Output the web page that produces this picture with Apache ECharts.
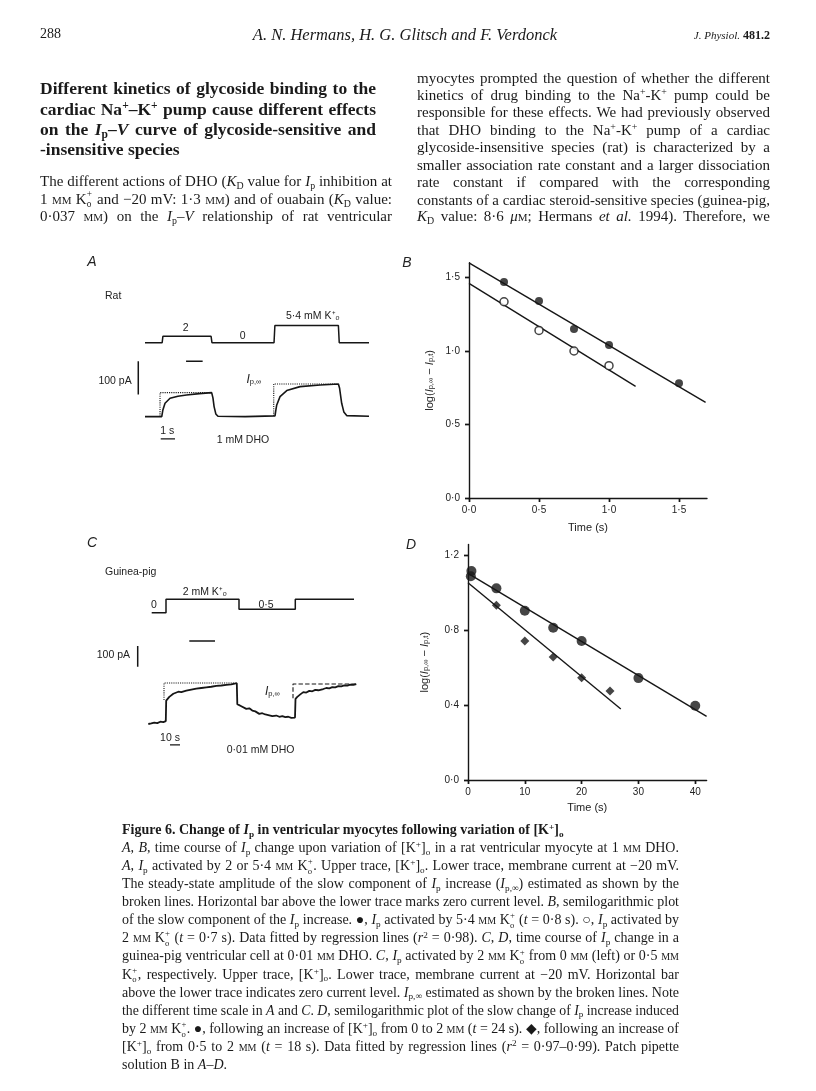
<!DOCTYPE html>
<html><head><meta charset="utf-8">
<script src="https://cdn.jsdelivr.net/npm/echarts@6/dist/echarts.min.js"></script>
<style>
html,body{margin:0;padding:0;background:#fff;}
#page{position:relative;width:816px;height:1091px;overflow:hidden;background:#fff;}
#chart{position:absolute;left:0;top:0;width:816px;height:1091px;}
#txt{position:absolute;left:0;top:0;width:816px;height:1091px;pointer-events:none;}
.l{position:absolute;white-space:nowrap;font-family:"Liberation Serif","Times New Roman",serif;color:#1a1a1a;}
.j{text-align:justify;text-align-last:justify;}
.l sub,.l sup{font-size:0.66em;line-height:0;position:relative;vertical-align:baseline;}
.l sup{top:-0.5em;} .l sub{top:0.3em;}
.sc{font-variant:small-caps;}
.st{display:inline-block;position:relative;width:0.4em;height:0.7em;}
.st>span{position:absolute;left:0.02em;font-size:0.62em;line-height:1;}
.st>.u{top:-0.35em;} .st>.d{top:0.75em;}
</style></head>
<body>
<div id="page"><div id="chart"></div><div id="txt"></div></div>
<script>
// ================= DATA =================
// Panel A (rat): upper trace [K+]o (mM) vs time (s)
const aKUpper = [[0,0],[1.2,0],[1.25,2],[4.62,2],[4.68,0],[9.02,0],[9.08,5.4],[13.52,5.4],[13.58,0],[15.66,0]];
// Panel A: membrane current (pA) vs time (s)
const aCurrent = [[0,-166],[1.17,-166],[1.25,-146],[1.4,-126],[1.75,-111],[2.3,-105],[2.9,-101],[3.8,-97],[4.66,-94],
  [4.75,-110],[4.83,-136],[4.95,-158],[5.1,-165],[7,-166],[9.09,-164],[9.15,-146],[9.21,-131],[9.44,-106],[9.91,-88],
  [10.84,-76],[12.24,-71],[13.52,-68],[13.6,-80],[13.75,-126],[13.9,-152],[14.1,-163],[15.66,-165]];
const aGuide1 = [[1.05,-166],[1.05,-94],[4.6,-94]];
const aGuide2 = [[9.0,-164],[9.0,-68],[13.4,-68]];
const aBar100pA = [[-0.47,0],[-0.47,-100]];
const aZeroBar = [[2.87,0],[4.03,0]];
const aTimeBar = [[1.1,-233],[2.1,-233]];

// Panel C (guinea-pig): upper trace [K+]o (mM) vs time (s)
const cKUpper = [[3.4,0],[17.7,0],[17.7,2],[90.7,2],[90.7,0.5],[147,0.5],[147,2],[205.7,2]];
// Panel C: membrane current (pA) vs time (s)
const cCurrent = [[0,-401],[3,-398],[6,-394],[9,-397],[12,-390],[15,-392],[17.5,-387],
  [17.9,-288],[19,-279],[21,-270],[23,-266],[25,-255],[27,-258],[30,-245],[33,-247],[35,-238],[38,-240],[40,-232],
  [43,-235],[45,-228],[48,-230],[50,-225],[53,-227],[55,-222],[58,-224],[60,-219],[63,-221],[65,-215],[68,-217],
  [70,-213],[73,-215],[75,-211],[78,-212],[80,-209],[83,-210],[85,-205],[88.5,-204],
  [89,-305],[91,-312],[93,-315],[95,-322],[98,-328],[101,-325],[104,-336],[107,-340],[111,-352],[114,-349],
  [117,-355],[120,-358],[124,-363],[128,-360],[131,-366],[134,-363],[137,-368],[140,-366],[143,-371],[146.7,-370],
  [147.2,-280],[149,-270],[152,-258],[155,-247],[158,-249],[161,-241],[164,-243],[167,-236],[170,-238],[172,-230],
  [175,-232],[178,-227],[181,-229],[184,-223],[187,-224],[190,-218],[193,-219],[196,-214],[199,-216],[202,-211],
  [205,-212],[208,-208]];
const cGuide1 = [[15.7,-285],[15.7,-203],[87,-203]];
const cGuide2 = [[144.7,-277],[144.7,-208],[208,-208]];
const cBar100pA = [[-10.6,-24],[-10.6,-124]];
const cZeroBar = [[41,0],[66.7,0]];
const cTimeBar = [[21.7,-502],[31.7,-502]];

// Panel B: log(Ip,inf - Ip,t) vs time (s)
const bTicksX = [0, 0.5, 1.0, 1.5];
const bTicksY = [0, 0.5, 1.0, 1.5];
const bFilled = [[0.25,1.47],[0.5,1.34],[0.75,1.15],[1.0,1.04],[1.5,0.78]];
const bOpen = [[0.25,1.335],[0.5,1.14],[0.75,1.00],[1.0,0.90]];
const bFitFilled = [[0,1.60],[1.69,0.65]];
const bFitOpen = [[0,1.46],[1.19,0.76]];

// Panel D
const dTicksX = [0, 10, 20, 30, 40];
const dTicksY = [0, 0.4, 0.8, 1.2];
const dCircles = [[0.6,1.118],[0.5,1.09],[5,1.025],[10,0.905],[15,0.814],[20,0.743],[30,0.545],[40,0.397]];
const dDiamonds = [[5,0.934],[10,0.743],[15,0.658],[20,0.547],[25,0.476]];
const dFitCircles = [[0,1.105],[42,0.34]];
const dFitDiamonds = [[0,1.055],[26.9,0.38]];

// ================= CHART =================
const SANS = '"Liberation Sans", Arial, sans-serif';
const INK = '#161616';
const fmt1 = v => v.toFixed(1).replace('.', '\u00b7');
const fmt0 = v => String(v);

function hidden(gi, min, max){ return {gridIndex:gi, type:'value', min, max, show:false, splitLine:{show:false}}; }
function mainAxis(gi, min, max, ticks, fmt, name, gap, isY, nameStyle){
  return {gridIndex:gi, type:'value', min, max,
    axisLine:{show:true, onZero:false, lineStyle:{color:INK, width:1.4}},
    axisTick:{show:true, length:4, customValues:ticks, lineStyle:{color:INK, width:1.4}},
    axisLabel:{customValues:ticks, formatter:fmt, fontFamily:SANS, fontSize:10, color:'#222', margin: isY?9:7},
    splitLine:{show:false},
    name:name, nameLocation:'middle', nameGap:gap, nameTextStyle:nameStyle};
}
function innerAxis(gi, min, max, ticks){
  return {gridIndex:gi, type:'value', min, max, axisLine:{show:false},
    axisTick:{show:true, inside:true, length:4, customValues:ticks, lineStyle:{color:INK, width:1.4}},
    axisLabel:{show:false}, splitLine:{show:false}};
}
const yNameStyle = {fontFamily:SANS, fontSize:11, color:'#222',
  rich:{t:{fontFamily:SANS,fontSize:11,color:'#222'}, i:{fontFamily:SANS,fontSize:11,fontStyle:'italic',color:'#222'},
        s:{fontFamily:SANS,fontSize:7.5,color:'#222',verticalAlign:'bottom',lineHeight:8}}};
const xNameStyle = {fontFamily:SANS, fontSize:11, color:'#222'};
const yName = '{t|log(}{i|I}{s|p,\u221e}{t| \u2212 }{i|I}{s|p,t}{t|)}';

function trace(xi, data, width, type){
  return {type:'line', xAxisIndex:xi, yAxisIndex:xi, data:data, symbol:'none', silent:true,
    lineStyle:{color:INK, width:width, type:type||'solid'}, z:3};
}

const grids = [
  {left:130.7, top:312, width:238.3, height:38},
  {left:130.7, top:355, width:238.3, height:90},
  {left:133.3, top:590, width:225, height:30},
  {left:133.3, top:635, width:225, height:115},
  {left:469, top:262.8, width:238, height:235.2},
  {left:468, top:544.4, width:238.6, height:235.6}
].map(g => Object.assign({outerBoundsMode:'none', containLabel:false}, g));

const xAxes = [
  hidden(0,-1,15.66), hidden(1,-1,15.66), hidden(2,-15,210), hidden(3,-15,210),
  mainAxis(4,0,1.7,bTicksX,fmt1,'Time (s)',24,false,xNameStyle),
  mainAxis(5,0,42,dTicksX,fmt0,'Time (s)',22,false,xNameStyle),
  innerAxis(4,0,1.7,bTicksX), innerAxis(5,0,42,dTicksX)
];
const yAxes = [
  hidden(0,-2.28,9.59), hidden(1,-251.3,18.9), hidden(2,-1.09,3.388), hidden(3,-526.6,29),
  mainAxis(4,0,1.6,bTicksY,fmt1,yName,34,true,yNameStyle),
  mainAxis(5,0,1.26,dTicksY,fmt1,yName,38,true,yNameStyle),
  innerAxis(4,0,1.6,bTicksY), innerAxis(5,0,1.26,dTicksY)
];

const series = [
  trace(0, aKUpper, 1.5), trace(1, aCurrent, 1.6),
  trace(1, aGuide1, 1.1, 'dotted'), trace(1, aGuide2, 1.1, 'dotted'),
  trace(1, aBar100pA, 1.5), trace(1, aZeroBar, 1.5), trace(1, aTimeBar, 1.4),
  trace(2, cKUpper, 1.5), trace(3, cCurrent, 1.8),
  trace(3, cGuide1, 1.1, 'dotted'), trace(3, cGuide2, 1.1, 'dashed'),
  trace(3, cBar100pA, 1.5), trace(3, cZeroBar, 1.5), trace(3, cTimeBar, 1.4),
  trace(4, bFitFilled, 1.4), trace(4, bFitOpen, 1.4),
  {type:'scatter', xAxisIndex:4, yAxisIndex:4, data:bFilled, symbol:'circle', symbolSize:8, itemStyle:{color:INK}, z:5},
  {type:'scatter', xAxisIndex:4, yAxisIndex:4, data:bOpen, symbol:'circle', symbolSize:8, itemStyle:{color:'#fff', borderColor:INK, borderWidth:1.5}, z:5},
  trace(5, dFitCircles, 1.4), trace(5, dFitDiamonds, 1.4),
  {type:'scatter', xAxisIndex:5, yAxisIndex:5, data:dCircles, symbol:'circle', symbolSize:10, itemStyle:{color:INK}, z:5},
  {type:'scatter', xAxisIndex:5, yAxisIndex:5, data:dDiamonds, symbol:'diamond', symbolSize:9, itemStyle:{color:INK}, z:5}
];

function gt(x, y, text, o){
  return {type:'text', x:x, y:y, silent:true, z:10,
    style:Object.assign({text:text, fontFamily:SANS, fontSize:11, fill:'#222', align:'left', verticalAlign:'middle'}, o||{})};
}
const ipRich = {i:{fontFamily:SANS,fontSize:12,fontStyle:'italic',fill:'#222'}, s:{fontFamily:SANS,fontSize:7.5,fill:'#222',verticalAlign:'bottom',lineHeight:9}};
const graphics = [
  gt(92,262,'A',{fontSize:14,fontStyle:'italic',align:'center'}),
  gt(407,263,'B',{fontSize:14,fontStyle:'italic',align:'center'}),
  gt(92,543,'C',{fontSize:14,fontStyle:'italic',align:'center'}),
  gt(411,545,'D',{fontSize:14,fontStyle:'italic',align:'center'}),
  gt(105,296,'Rat',{fontSize:10.5}),
  gt(185.7,328,'2',{fontSize:10.5,align:'center'}),
  gt(242.7,336,'0',{fontSize:10.5,align:'center'}),
  gt(286,316,'5\u00b74 mM K\u207a\u2092',{fontSize:10.5}),
  gt(131.7,381.5,'100 pA',{fontSize:10.5,align:'right'}),
  gt(246.5,380,'{i|I}{s|p,\u221e}',{rich:ipRich}),
  gt(167.3,431.5,'1 s',{fontSize:10.5,align:'center'}),
  gt(216.7,440,'1 mM DHO',{fontSize:10.5}),
  gt(105,571.7,'Guinea-pig',{fontSize:10.5}),
  gt(182.7,591.7,'2 mM K\u207a\u2092',{fontSize:10.5}),
  gt(154,605,'0',{fontSize:10.5,align:'center'}),
  gt(266,605,'0\u00b75',{fontSize:10.5,align:'center'}),
  gt(130,655,'100 pA',{fontSize:10.5,align:'right'}),
  gt(265,691.7,'{i|I}{s|p,\u221e}',{rich:ipRich}),
  gt(170,738,'10 s',{fontSize:10.5,align:'center'}),
  gt(226.7,750,'0\u00b701 mM DHO',{fontSize:10.5})
];

const chart = echarts.init(document.getElementById('chart'), null, {renderer:'canvas'});
chart.setOption({animation:false, backgroundColor:'#fff', grid:grids, xAxis:xAxes, yAxis:yAxes, series:series, graphic:{elements:graphics}});

// ================= PAGE TEXT =================
const K = 'K<span class="st"><span class="u">+</span><span class="d">o</span></span>';
const MM = '<span class="sc">mm</span>';
const IP = '<i>I</i><sub>p</sub>';
const KD = '<i>K</i><sub>D</sub>';
const KO = '[K<sup>+</sup>]<sub>o</sub>';
const txt = document.getElementById('txt');
function addLine(html, x, cy, fs, o){
  o = o || {};
  const d = document.createElement('div');
  d.className = 'l';
  d.innerHTML = html;
  d.style.left = x + 'px';
  d.style.top = (cy - fs*0.62) + 'px';
  d.style.fontSize = fs + 'px';
  d.style.lineHeight = (fs*1.2) + 'px';
  if (o.bold) d.style.fontWeight = 'bold';
  if (o.italic) d.style.fontStyle = 'italic';
  if (o.center) { d.style.textAlign = 'center'; d.style.width = o.center + 'px'; }
  txt.appendChild(d);
  if (o.w) {
    const nat = d.getBoundingClientRect().width;
    if (nat > o.w) { d.style.transformOrigin = 'left center'; d.style.transform = 'scaleX(' + (o.w/nat) + ')'; }
    else if (o.j !== false) { d.style.width = o.w + 'px'; d.classList.add('j'); }
  }
  return d;
}
// running header
addLine('288', 40, 35, 14);
addLine('A. N. Hermans, H. G. Glitsch and F. Verdonck', 0, 35, 16.5, {italic:true, center:810});
const jp = addLine('<span style="font-style:italic;font-size:11px">J. Physiol.</span> <b style="font-size:12px">481.2</b>', 0, 35, 12);
jp.style.left = (770 - jp.getBoundingClientRect().width) + 'px';

// heading
const hd = ['Different kinetics of glycoside binding to the',
  'cardiac Na<sup>+</sup>\u2013K<sup>+</sup> pump cause different effects',
  'on the ' + IP + '\u2013<i>V</i> curve of glycoside-sensitive and',
  '-insensitive species'];
const hdY = [89.3, 109.5, 129.5, 149.5];
hd.forEach((h,i) => addLine(h, 40, hdY[i], 17.5, {bold:true, w:336, j: i<3}));

// left body
const lb = ['The different actions of DHO (' + KD + ' value for ' + IP + ' inhibition at',
  '1 ' + MM + ' ' + K + ' and \u221220 mV: 1\u00b73 ' + MM + ') and of ouabain (' + KD + ' value:',
  '0\u00b7037 ' + MM + ') on the ' + IP + '\u2013<i>V</i> relationship of rat ventricular'];
const lbY = [181.7, 199.3, 216.7];
lb.forEach((h,i) => addLine(h, 40, lbY[i], 15, {w:352}));

// right body
const rb = ['myocytes prompted the question of whether the different',
  'kinetics of drug binding to the Na<sup>+</sup>-K<sup>+</sup> pump could be',
  'responsible for these effects. We had previously observed',
  'that DHO binding to the Na<sup>+</sup>-K<sup>+</sup> pump of a cardiac',
  'glycoside-insensitive species (rat) is characterized by a',
  'smaller association rate constant and a larger dissociation',
  'rate constant if compared with the corresponding',
  'constants of a cardiac steroid-sensitive species (guinea-pig,',
  KD + ' value: 8\u00b76 <i>\u03bc</i><span class="sc">m</span>; Hermans <i>et al.</i> 1994). Therefore, we'];
const rbY = [78.3, 95.7, 112.7, 130, 147.3, 165, 182.7, 200, 216.7];
rb.forEach((h,i) => addLine(h, 417, rbY[i], 15, {w:353}));

// caption
addLine('Figure 6. Change of ' + IP + ' in ventricular myocytes following variation of ' + KO, 122, 831, 14, {bold:true});
const cap = [
  '<i>A</i>, <i>B</i>, time course of ' + IP + ' change upon variation of ' + KO + ' in a rat ventricular myocyte at 1 ' + MM + ' DHO.',
  '<i>A</i>, ' + IP + ' activated by 2 or 5\u00b74 ' + MM + ' ' + K + '. Upper trace, ' + KO + '. Lower trace, membrane current at \u221220 mV.',
  'The steady-state amplitude of the slow component of ' + IP + ' increase (<i>I</i><sub>p,\u221e</sub>) estimated as shown by the',
  'broken lines. Horizontal bar above the lower trace marks zero current level. <i>B</i>, semilogarithmic plot',
  'of the slow component of the ' + IP + ' increase. \u25cf, ' + IP + ' activated by 5\u00b74 ' + MM + ' ' + K + ' (<i>t</i> = 0\u00b78 s). \u25cb, ' + IP + ' activated by',
  '2 ' + MM + ' ' + K + ' (<i>t</i> = 0\u00b77 s). Data fitted by regression lines (<i>r</i><sup>2</sup> = 0\u00b798). <i>C</i>, <i>D</i>, time course of ' + IP + ' change in a',
  'guinea-pig ventricular cell at 0\u00b701 ' + MM + ' DHO. <i>C</i>, ' + IP + ' activated by 2 ' + MM + ' ' + K + ' from 0 ' + MM + ' (left) or 0\u00b75 ' + MM,
  K + ', respectively. Upper trace, ' + KO + '. Lower trace, membrane current at \u221220 mV. Horizontal bar',
  'above the lower trace indicates zero current level. <i>I</i><sub>p,\u221e</sub> estimated as shown by the broken lines. Note',
  'the different time scale in <i>A</i> and <i>C</i>. <i>D</i>, semilogarithmic plot of the slow change of ' + IP + ' increase induced',
  'by 2 ' + MM + ' ' + K + '. \u25cf, following an increase of ' + KO + ' from 0 to 2 ' + MM + ' (<i>t</i> = 24 s). \u25c6, following an increase of',
  KO + ' from 0\u00b75 to 2 ' + MM + ' (<i>t</i> = 18 s). Data fitted by regression lines (<i>r</i><sup>2</sup> = 0\u00b797\u20130\u00b799). Patch pipette',
  'solution B in <i>A</i>\u2013<i>D</i>.'];
const capY = cap.map((_, i) => 848.5 + i*18.1);
cap.forEach((h,i) => addLine(h, 122, capY[i], 14, {w:557, j: i < cap.length-1}));
</script>
</body></html>
